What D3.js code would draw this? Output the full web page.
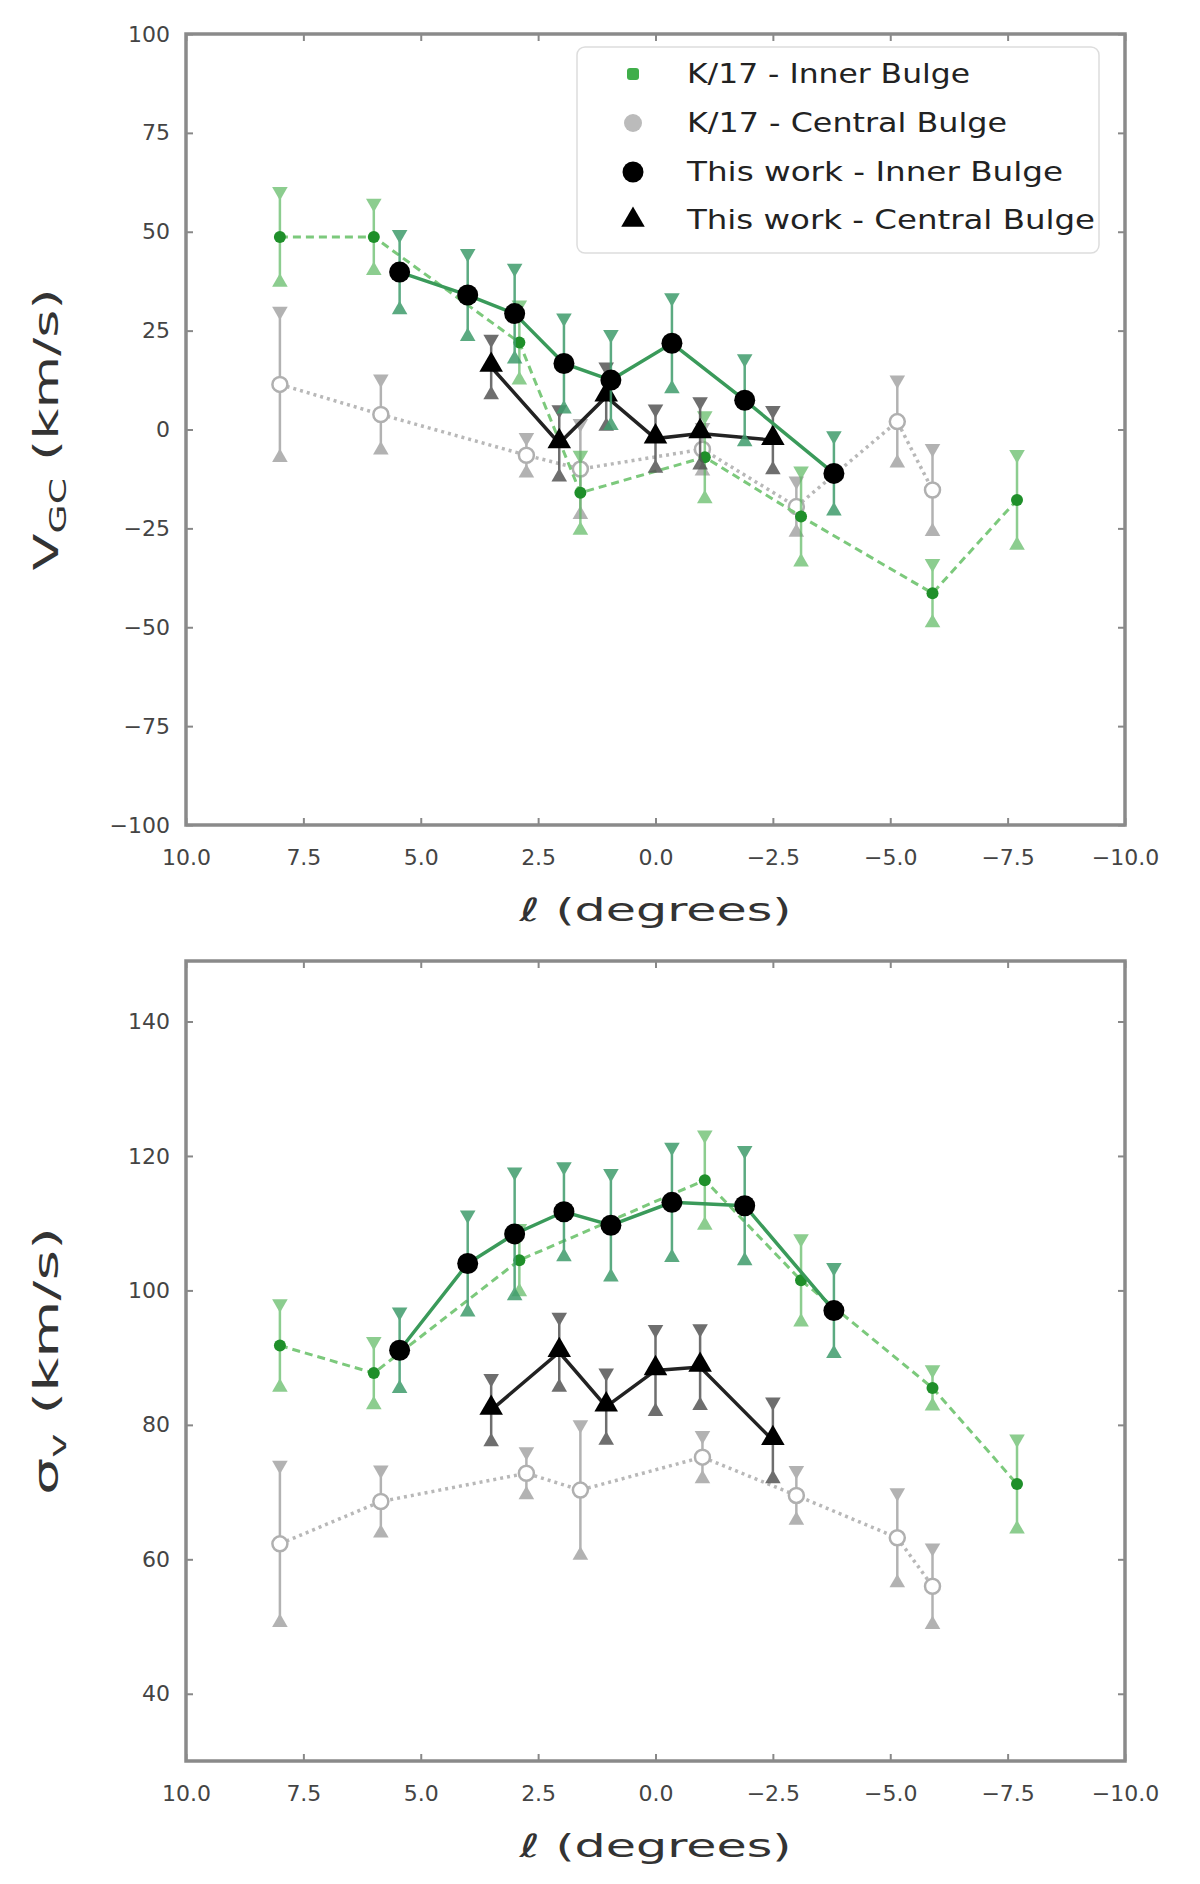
<!DOCTYPE html>
<html><head><meta charset="utf-8">
<script src="https://cdn.jsdelivr.net/npm/d3@7"></script>
<style>body{margin:0;background:#fff}</style>
</head><body>
<svg id="c" width="1200" height="1884" xmlns="http://www.w3.org/2000/svg"></svg>
<script>
// ---------------- data ----------------
const lTicks = [10, 7.5, 5, 2.5, 0, -2.5, -5, -7.5, -10];
const lTickLabels = ["10.0", "7.5", "5.0", "2.5", "0.0", "\u22122.5", "\u22125.0", "\u22127.5", "\u221210.0"];
const vTicks = [100, 75, 50, 25, 0, -25, -50, -75, -100];
const vTickLabels = ["100", "75", "50", "25", "0", "\u221225", "\u221250", "\u221275", "\u2212100"];
const sTicks = [140, 120, 100, 80, 60, 40];
const sTickLabels = ["140", "120", "100", "80", "60", "40"];

const legendLabels = ["K/17 - Inner Bulge", "K/17 - Central Bulge", "This work - Inner Bulge", "This work - Central Bulge"];

// K17 inner bulge
const kInL_V = [8, 6, 2.9, 1.6, -1.05, -3.1, -5.9, -7.7];
const kInV = [48.7, 48.7, 22, -16, -7, -22, -41.4, -17.8];
const kInVErr = [12, 9, 10, 10, 11, 12, 8, 12];
const kInL_S = [8, 6, 2.9, -1.05, -3.1, -5.9, -7.7];
const kInS = [91.8, 87.7, 104.5, 116.4, 101.5, 85.5, 71.2];
const kInSErr = [6.5, 5, 5, 7, 6.5, 3, 7];

// K17 central bulge
const kCenL = [8, 5.85, 2.75, 1.6, -1, -3, -5.15, -5.9];
const kCenV = [11.4, 3.8, -6.5, -10, -5, -19.5, 2, -15.3];
const kCenVErr = [19, 9.5, 5, 12, 6, 7, 11, 11];
const kCenS = [62.3, 68.6, 72.8, 70.3, 75.2, 69.5, 63.2, 56];
const kCenSErr = [12, 5, 3.5, 10, 3.5, 4, 7, 6];

// This work inner bulge
const twInL = [5.45, 4, 3, 1.95, 0.95, -0.35, -1.9, -3.8];
const twInV = [39.8, 34.0, 29.3, 16.7, 12.5, 21.8, 7.4, -11.1];
const twInVErr = [10, 11, 12, 12, 12, 12, 11, 10];
const twInS = [91.1, 104.0, 108.4, 111.7, 109.7, 113.1, 112.6, 97.0];
const twInSErr = [6, 7.5, 9.5, 7, 8, 8.5, 8.5, 6.7];

// This work central bulge
const twCenL = [3.5, 2.05, 1.05, 0, -0.95, -2.5];
const twCenV = [15.8, -3.5, 8.3, -2.3, -1, -2.7];
const twCenVErr = [7.5, 9, 8, 8, 8.5, 8];
const twCenS = [82.2, 90.8, 82.7, 88.1, 88.6, 77.7];
const twCenSErr = [5, 5.5, 5.3, 6.4, 6, 6];

// ---------------- drawing ----------------
const svg = d3.select('#c');
const font = "'DejaVu Sans', sans-serif";
const L = 186, R = 1125;
const x = d3.scaleLinear().domain([10, -10]).range([L, R]);
const yV = d3.scaleLinear().domain([-100, 100]).range([825, 34]);
const yS = d3.scaleLinear().domain([30, 149]).range([1761, 961]);

const zip = (ls, vs, es) => ls.map((l, i) => ({l, v: vs[i], e: es[i]}));

function panel(y, ticks, labels, yTitleMain, yTitleSub, yTitleLen) {
  const [yb, yt] = y.range();
  const g = svg.append('g');
  const xa = d3.axisBottom(x).tickValues(lTicks).tickFormat((d, i) => labels === null ? '' : lTickLabels[i]).tickSize(-7).tickPadding(24);
  const gx = g.append('g').attr('transform', `translate(0,${yb})`).call(xa);
  gx.select('.domain').remove();
  gx.selectAll('line').attr('stroke', '#888').attr('stroke-width', 2);
  gx.selectAll('text').attr('font-family', font).attr('font-size', 22).attr('fill', '#444');
  const xt = d3.axisTop(x).tickValues(lTicks).tickFormat('').tickSize(-7);
  const gxt = g.append('g').attr('transform', `translate(0,${yt})`).call(xt);
  gxt.select('.domain').remove();
  gxt.selectAll('line').attr('stroke', '#888').attr('stroke-width', 2);
  const ya = d3.axisLeft(y).tickValues(ticks).tickFormat((d, i) => labels[i]).tickSize(-7).tickPadding(16);
  const gy = g.append('g').attr('transform', `translate(${L},0)`).call(ya);
  gy.select('.domain').remove();
  gy.selectAll('line').attr('stroke', '#888').attr('stroke-width', 2);
  gy.selectAll('text').attr('font-family', font).attr('font-size', 22).attr('fill', '#444');
  const yr = d3.axisRight(y).tickValues(ticks).tickFormat('').tickSize(-7);
  const gyr = g.append('g').attr('transform', `translate(${R},0)`).call(yr);
  gyr.select('.domain').remove();
  gyr.selectAll('line').attr('stroke', '#888').attr('stroke-width', 2);
  g.append('rect').attr('x', L).attr('y', yt).attr('width', R - L).attr('height', yb - yt)
    .attr('fill', 'none').attr('stroke', '#8a8a8a').attr('stroke-width', 3.5);
  g.append('text').attr('x', (L + R) / 2).attr('y', yb + 96).attr('text-anchor', 'middle')
    .attr('font-family', font).attr('font-size', 32).attr('fill', '#333')
    .attr('textLength', 272).attr('lengthAdjust', 'spacingAndGlyphs')
    .text('\u2113 (degrees)');
  const cy = (yt + yb) / 2;
  const t = g.append('text').attr('transform', `translate(58,${cy}) rotate(-90)`).attr('text-anchor', 'middle')
    .attr('font-family', font).attr('font-size', 33).attr('fill', '#333')
    .attr('textLength', yTitleLen).attr('lengthAdjust', 'spacingAndGlyphs');
  t.append('tspan').text(yTitleMain);
  t.append('tspan').attr('font-size', 23).attr('dy', 8).text(yTitleSub);
  t.append('tspan').attr('dy', -8).text(' (km/s)');
  return g;
}

const triUp = d3.symbol().type(d3.symbolTriangle).size(105)();

function errbars(g, data, y, color, op) {
  const eg = g.append('g').attr('opacity', op);
  eg.selectAll('line').data(data).join('line')
    .attr('x1', d => x(d.l)).attr('x2', d => x(d.l))
    .attr('y1', d => y(d.v + d.e)).attr('y2', d => y(d.v - d.e))
    .attr('stroke', color).attr('stroke-width', 2.5);
  eg.selectAll('path.up').data(data).join('path').attr('class', 'up')
    .attr('d', triUp).attr('fill', color)
    .attr('transform', d => `translate(${x(d.l)},${y(d.v + d.e) + 2}) rotate(180)`);
  eg.selectAll('path.dn').data(data).join('path').attr('class', 'dn')
    .attr('d', triUp).attr('fill', color)
    .attr('transform', d => `translate(${x(d.l)},${y(d.v - d.e) - 2})`);
}

function series(g, data, y, opts) {
  const line = d3.line().x(d => x(d.l)).y(d => y(d.v));
  errbars(g, data, y, opts.errColor, opts.errOp);
  g.append('path').datum(data).attr('d', line).attr('fill', 'none')
    .attr('stroke', opts.lineColor).attr('stroke-width', opts.lineWidth)
    .attr('stroke-dasharray', opts.dash || null).attr('opacity', opts.lineOp || 1);
  if (opts.marker === 'tri') {
    const tri = d3.symbol().type(d3.symbolTriangle).size(opts.size)();
    g.selectAll(null).data(data).join('path').attr('d', tri)
      .attr('transform', d => `translate(${x(d.l)},${y(d.v) - 2})`).attr('fill', opts.fill);
  } else {
    g.selectAll(null).data(data).join('circle')
      .attr('cx', d => x(d.l)).attr('cy', d => y(d.v)).attr('r', opts.r)
      .attr('fill', opts.fill).attr('stroke', opts.stroke || 'none').attr('stroke-width', opts.sw || 0);
  }
}

const styles = {
  kIn: {errColor: '#5cb860', errOp: 0.7, lineColor: '#7cc97c', lineWidth: 3, dash: '8,5', r: 6, fill: '#1f8f2a'},
  kCen: {errColor: '#a0a0a0', errOp: 0.8, lineColor: '#b8b8b8', lineWidth: 3.5, dash: '3,4', r: 7.5, fill: '#fff', stroke: '#b0b0b0', sw: 2.5},
  twIn: {errColor: '#3f9c6c', errOp: 0.85, lineColor: '#3a9a5a', lineWidth: 3.5, r: 10.5, fill: '#000'},
  twCen: {errColor: '#555', errOp: 0.85, lineColor: '#222', lineWidth: 3.5, marker: 'tri', size: 240, fill: '#000'}
};

const gTop = panel(yV, vTicks, vTickLabels, 'V', 'GC', 282);
series(gTop, zip(kCenL, kCenV, kCenVErr), yV, styles.kCen);
series(gTop, zip(kInL_V, kInV, kInVErr), yV, styles.kIn);
series(gTop, zip(twCenL, twCenV, twCenVErr), yV, styles.twCen);
series(gTop, zip(twInL, twInV, twInVErr), yV, styles.twIn);

const gBot = panel(yS, sTicks, sTickLabels, '\u03c3', 'v', 268);
series(gBot, zip(kCenL, kCenS, kCenSErr), yS, styles.kCen);
series(gBot, zip(kInL_S, kInS, kInSErr), yS, styles.kIn);
series(gBot, zip(twCenL, twCenS, twCenSErr), yS, styles.twCen);
series(gBot, zip(twInL, twInS, twInSErr), yS, styles.twIn);

// legend
const legY = [74, 123, 172, 220];
const legW = [283, 320, 376, 408];
const lg = svg.append('g');
lg.append('rect').attr('x', 577).attr('y', 47).attr('width', 522).attr('height', 206).attr('rx', 8)
  .attr('fill', '#fff').attr('fill-opacity', 0.85).attr('stroke', '#ddd').attr('stroke-width', 1.5);
legendLabels.forEach((lab, i) => {
  const cx = 633, cy = legY[i];
  if (i === 0) lg.append('rect').attr('x', cx - 6).attr('y', cy - 6).attr('width', 12).attr('height', 12).attr('rx', 3).attr('fill', '#3fae4a');
  if (i === 1) lg.append('circle').attr('cx', cx).attr('cy', cy).attr('r', 9).attr('fill', '#bbb');
  if (i === 2) lg.append('circle').attr('cx', cx).attr('cy', cy).attr('r', 10.5).attr('fill', '#000');
  if (i === 3) lg.append('path').attr('d', d3.symbol().type(d3.symbolTriangle).size(240)())
    .attr('transform', `translate(${cx},${cy})`).attr('fill', '#000');
  lg.append('text').attr('x', 687).attr('y', cy + 9).attr('font-family', font).attr('font-size', 27)
    .attr('fill', '#222').attr('textLength', legW[i]).attr('lengthAdjust', 'spacingAndGlyphs').text(lab);
});
</script>
</body></html>
